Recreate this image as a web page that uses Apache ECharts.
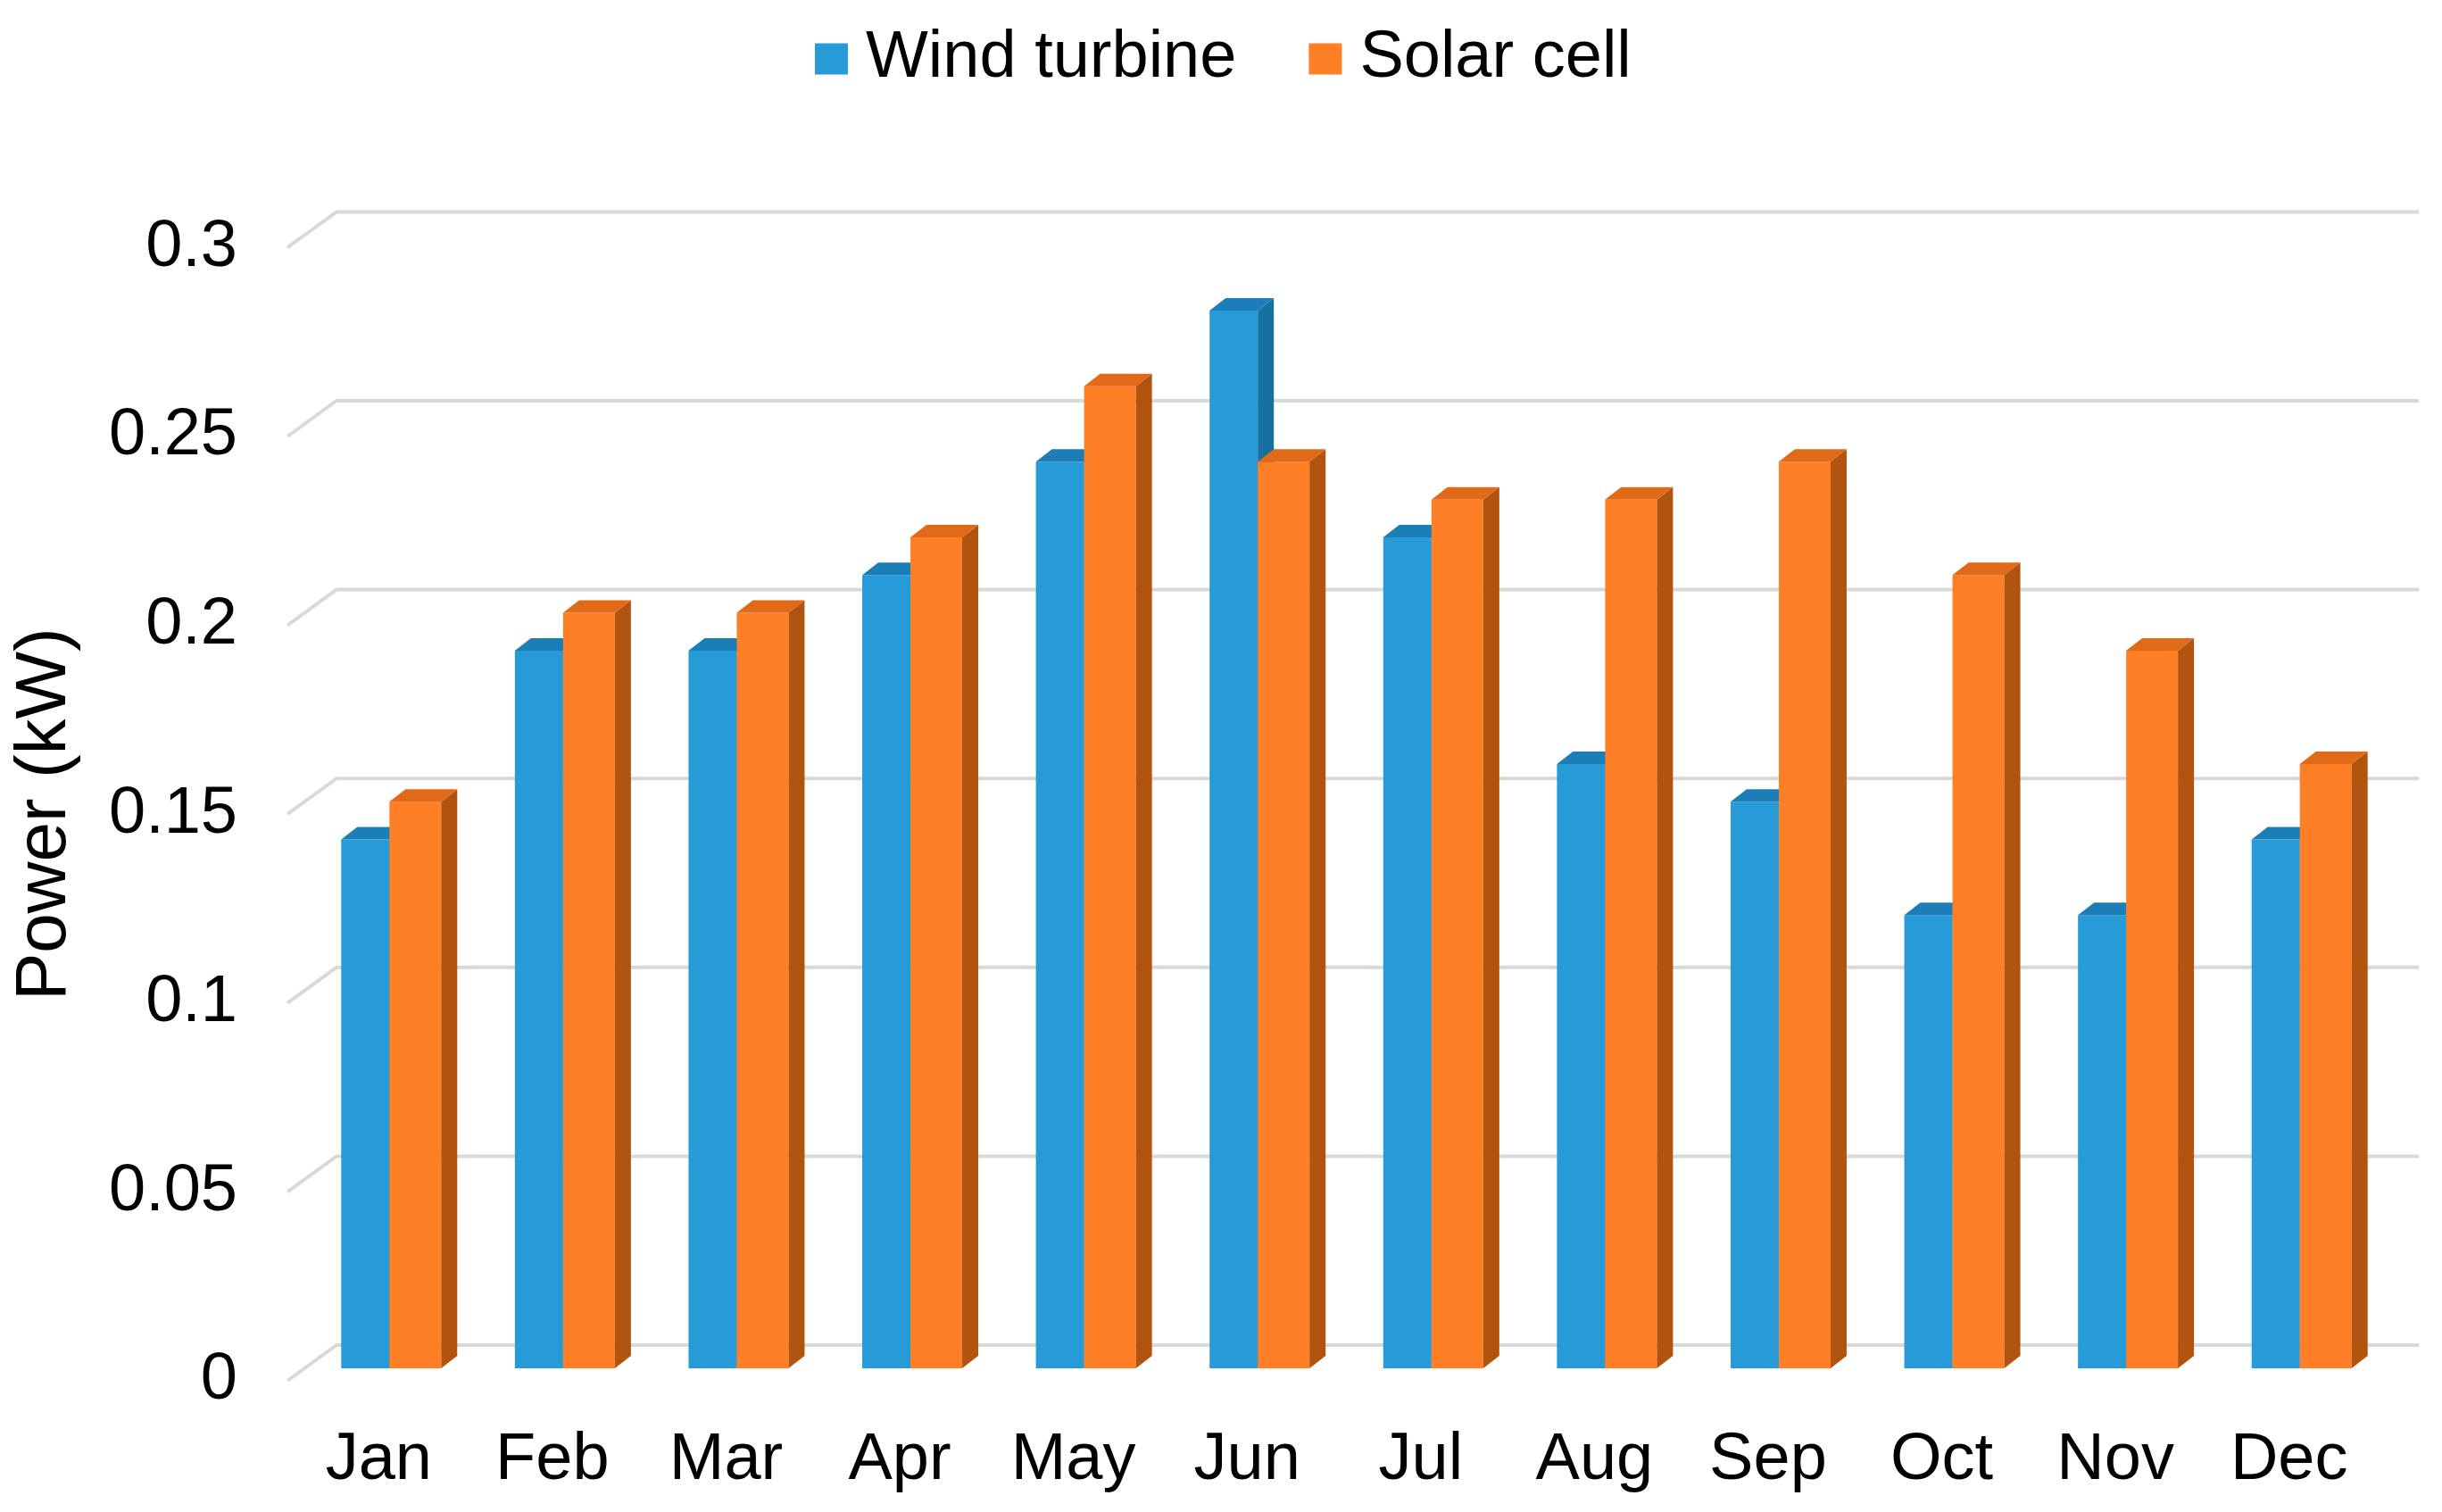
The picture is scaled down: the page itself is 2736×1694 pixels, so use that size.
<!DOCTYPE html>
<html>
<head>
<meta charset="utf-8">
<script src="https://cdn.jsdelivr.net/npm/echarts@6/dist/echarts.min.js"></script>
<style>html,body{margin:0;padding:0;background:#fff}#c{width:2736px;height:1694px}</style>
</head>
<body>
<div id="c"></div>
<script>
// ---- data ----
const months = ['Jan','Feb','Mar','Apr','May','Jun','Jul','Aug','Sep','Oct','Nov','Dec'];
const windTurbine = [0.14,0.19,0.19,0.21,0.24,0.28,0.22,0.16,0.15,0.12,0.12,0.14];
const solarCell   = [0.15,0.20,0.20,0.22,0.26,0.24,0.23,0.23,0.24,0.21,0.19,0.16];
const yTicks = [0,0.05,0.1,0.15,0.2,0.25,0.3];
const seriesNames = ['Wind turbine','Solar cell'];
const yAxisTitle = 'Power (kW)';

// ---- styling ----
const FONT = '"Liberation Sans", Arial, sans-serif';
const DX = 18, DY = 14;
const windColors  = {front:'#269BD8', side:'#17709F', top:'#1C7EB6'};
const solarColors = {front:'#FF7F27', side:'#B1540F', top:'#E06A17'};

function barRender(slot, colors){
  return function(params, api){
    const idx = api.value(0), v = api.value(1);
    const c = api.coord([idx, v]);
    const base = api.coord([idx, 0]);
    const x0 = slot === 0 ? c[0] - 56 : c[0] - 2;
    const x1 = slot === 0 ? c[0] - 2 : c[0] + 56;
    const yt = c[1], yb = base[1];
    return {type:'group', children:[
      {type:'rect', shape:{x:x0, y:yt, width:x1-x0, height:yb-yt}, style:{fill:colors.front}},
      {type:'polygon', shape:{points:[[x1,yt],[x1+DX,yt-DY],[x1+DX,yb-DY],[x1,yb]]}, style:{fill:colors.side}},
      {type:'polygon', shape:{points:[[x0,yt],[x0+DX,yt-DY],[x1+DX,yt-DY],[x1,yt]]}, style:{fill:colors.top}}
    ]};
  };
}

function gridRender(params, api){
  const v = api.value(1);
  const cs = params.coordSys;
  const y = api.coord([0, v])[1];
  const xl = cs.x - 19, xm = cs.x + 36, xr = cs.x + cs.width + 34;
  return {type:'polyline', shape:{points:[[xl, y+14],[xm, y-26],[xr, y-26]]},
          style:{stroke:'#D9D9D9', lineWidth:4, fill:null}};
}

const chart = echarts.init(document.getElementById('c'), null, {renderer:'canvas'});
chart.setOption({
  backgroundColor:'#ffffff',
  animation:false,
  textStyle:{fontFamily:FONT},
  legend:{
    data:seriesNames, left:908, top:21, icon:'rect', itemWidth:37, itemHeight:35, itemGap:81,
    textStyle:{fontSize:74, fontFamily:FONT, color:'#000', lineHeight:80, padding:[0,0,0,15]}
  },
  grid:[
    {left:341, right:60, top:263.4, bottom:161, containLabel:false},
    {left:341, right:60, top:277.4, bottom:147, containLabel:false}
  ],
  xAxis:[
    {type:'category', data:months, gridIndex:0,
     axisLine:{show:false}, axisTick:{show:false}, splitLine:{show:false},
     axisLabel:{fontSize:74, fontFamily:FONT, color:'#000', margin:67, padding:[0,28,0,0]}},
    {type:'category', data:months, gridIndex:1, show:false}
  ],
  yAxis:[
    {type:'value', min:0, max:0.3, interval:0.05, gridIndex:0,
     axisLine:{show:false}, axisTick:{show:false}, splitLine:{show:false}, axisLabel:{show:false}},
    {type:'value', min:0, max:0.3, interval:0.05, gridIndex:1,
     name:yAxisTitle, nameLocation:'middle', nameGap:250, nameRotate:90,
     nameTextStyle:{fontSize:80, fontFamily:FONT, color:'#000'},
     axisLine:{show:false}, axisTick:{show:false}, splitLine:{show:false},
     axisLabel:{fontSize:74, fontFamily:FONT, color:'#000', margin:75}}
  ],
  series:[
    {type:'custom', name:'grid', silent:true, z:1, renderItem:gridRender,
     xAxisIndex:0, yAxisIndex:0, data:yTicks.map(v => [0, v]), encode:{x:0, y:1}},
    {type:'custom', name:seriesNames[0], z:2, renderItem:barRender(0, windColors),
     xAxisIndex:0, yAxisIndex:0,
     itemStyle:{color:windColors.front}, data:windTurbine.map((v,i) => [i, v]), encode:{x:0, y:1}},
    {type:'custom', name:seriesNames[1], z:3, renderItem:barRender(1, solarColors),
     xAxisIndex:0, yAxisIndex:0,
     itemStyle:{color:solarColors.front}, data:solarCell.map((v,i) => [i, v]), encode:{x:0, y:1}}
  ]
});
</script>
</body>
</html>
